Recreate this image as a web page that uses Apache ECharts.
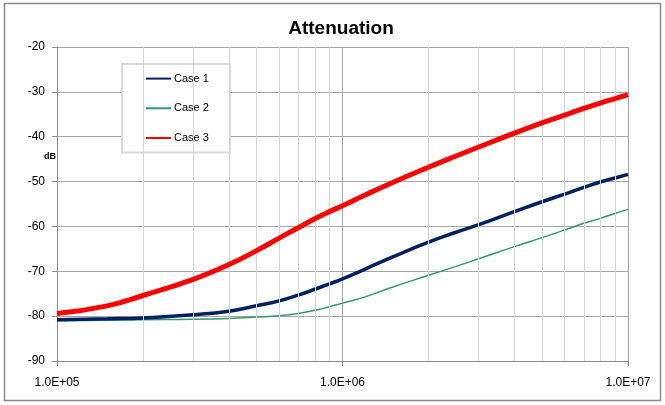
<!DOCTYPE html>
<html>
<head>
<meta charset="utf-8">
<script src="https://cdn.jsdelivr.net/npm/echarts@6/dist/echarts.min.js"></script>
<style>html,body{margin:0;padding:0;background:#fff}#c{width:665px;height:405px}</style>
</head>
<body>
<div id="c"></div>
<script>
// Frequencies (Hz)
const freq = [1e5, 1.5e5, 2e5, 3e5, 4e5, 5e5, 6e5, 7e5, 8e5, 9e5, 1e6, 1.2e6, 1.5e6, 2e6, 2.5e6, 3e6, 4e6, 5e6, 6e6, 7e6, 8e6, 9e6, 1e7];
// Attenuation (dB)
const case1 = [-80.8, -80.6, -80.4, -79.7, -78.9, -77.7, -76.6, -75.3, -74.0, -72.8, -71.7, -69.5, -66.8, -63.5, -61.3, -59.6, -56.7, -54.5, -52.8, -51.3, -50.1, -49.2, -48.4];
const case2 = [-81.0, -80.9, -80.8, -80.7, -80.5, -80.2, -79.9, -79.4, -78.7, -77.9, -77.1, -75.7, -73.5, -70.9, -68.9, -67.2, -64.5, -62.5, -60.8, -59.3, -58.2, -57.1, -56.2];
const case3 = [-79.4, -77.7, -75.4, -71.8, -68.5, -65.4, -62.6, -60.3, -58.3, -56.7, -55.4, -53.0, -50.2, -46.8, -44.3, -42.3, -39.2, -36.9, -35.2, -33.7, -32.5, -31.5, -30.6];
const seriesNames = ['Case 1', 'Case 2', 'Case 3'];
const yTicks = [-90, -80, -70, -60, -50, -40, -30, -20];
const xMinor = [2e5, 3e5, 4e5, 5e5, 6e5, 7e5, 8e5, 9e5, 2e6, 3e6, 4e6, 5e6, 6e6, 7e6, 8e6, 9e6];

const pair = (ys) => freq.map((f, i) => [f, ys[i]]);
const fmtE = (v) => {
  const e = Math.round(Math.log10(v));
  const m = v / Math.pow(10, e);
  return m.toFixed(1) + 'E' + (e >= 0 ? '+' : '-') + String(Math.abs(e)).padStart(2, '0');
};
const FONT = 'Liberation Sans';
const chart = echarts.init(document.getElementById('c'), null, {renderer: 'canvas'});
chart.setOption({
  animation: false,
  backgroundColor: '#fff',
  textStyle: {fontFamily: FONT},
  title: {
    text: 'Attenuation', left: 336, top: 14, textAlign: 'center',
    textStyle: {fontFamily: FONT, fontSize: 19, fontWeight: 'bold', color: '#000'}
  },
  graphic: [
    {type: 'rect', shape: {x: 4.5, y: 3.5, width: 656, height: 397}, style: {fill: 'none', stroke: '#8c8c8c', lineWidth: 1.5}, silent: true, z: -10},
    {type: 'text', left: 44, top: 152, style: {text: 'dB', font: 'bold 9px ' + FONT, fill: '#000'}}
  ],
  legend: {
    data: seriesNames, orient: 'vertical', left: 122, top: 64,
    itemWidth: 25, itemHeight: 14, itemGap: 18.5,
    padding: [9, 21, 9, 23],
    borderColor: '#d9d9d9', borderWidth: 2, backgroundColor: '#fff',
    itemStyle: {opacity: 0, borderWidth: 0},
    textStyle: {fontFamily: FONT, fontSize: 11, color: '#000', padding: [0, 0, 0, -2]}
  },
  grid: {left: 57, right: 37, top: 47, bottom: 44, containLabel: false},
  xAxis: {
    type: 'log', logBase: 10, min: 1e5, max: 1e7, interval: 1,
    axisLine: {show: true, lineStyle: {color: '#8c8c8c', width: 1}},
    axisTick: {show: true, length: 5, lineStyle: {color: '#8c8c8c'}},
    axisLabel: {formatter: fmtE, fontSize: 12, color: '#000', margin: 16, fontFamily: FONT},
    splitLine: {show: true, lineStyle: {color: '#a6a6a6', width: 1}},
    minorTick: {show: false}
  },
  yAxis: {
    type: 'value', min: yTicks[0], max: yTicks[yTicks.length - 1], interval: 10,
    axisLine: {show: true, lineStyle: {color: '#8c8c8c', width: 1}},
    axisTick: {show: true, length: 5, lineStyle: {color: '#8c8c8c'}},
    axisLabel: {fontSize: 12, color: '#000', margin: 12, fontFamily: FONT},
    splitLine: {show: true, lineStyle: {color: '#a6a6a6', width: 1}}
  },
  series: [
    {
      name: 'minor', type: 'line', data: [], z: 1, silent: true,
      markLine: {
        silent: true, symbol: 'none', label: {show: false}, animation: false,
        lineStyle: {color: '#d6d6d6', width: 1, type: 'solid'},
        data: xMinor.map(v => ({xAxis: v}))
      }
    },
    {name: seriesNames[0], type: 'line', data: pair(case1), smooth: 0.5, symbol: 'none', z: 4,
     lineStyle: {color: '#002060', width: 3.5}, itemStyle: {color: '#002060'}},
    {name: seriesNames[1], type: 'line', data: pair(case2), smooth: 0.5, symbol: 'none', z: 3,
     lineStyle: {color: '#339966', width: 1.5}, itemStyle: {color: '#339966'}},
    {name: seriesNames[2], type: 'line', data: pair(case3), smooth: 0.5, symbol: 'none', z: 5,
     lineStyle: {color: '#ff0000', width: 5}, itemStyle: {color: '#ff0000'}}
  ]
});
</script>
</body>
</html>
